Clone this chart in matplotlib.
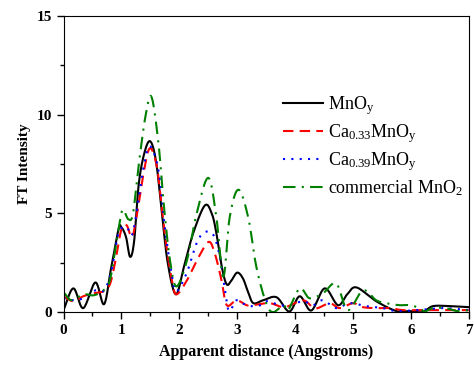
import numpy as np
import matplotlib
matplotlib.use("Agg")
import matplotlib.pyplot as plt
from matplotlib.ticker import MultipleLocator

plt.rcParams['font.family'] = ['Liberation Serif', 'DejaVu Serif']
plt.rcParams['mathtext.fontset'] = 'custom'
plt.rcParams['mathtext.rm'] = 'Liberation Serif'
plt.rcParams['mathtext.it'] = 'Liberation Serif:italic'

# MnOy (black solid)
mno_x = [0.0, 0.17, 0.34, 0.55, 0.7, 0.82, 0.95, 1.0, 1.08, 1.15, 1.22, 1.3, 1.4, 1.5,
         1.6, 1.7, 1.8, 1.94, 2.08, 2.24, 2.44, 2.56, 2.64, 2.74, 2.82, 2.9, 3.0, 3.1,
         3.19, 3.28, 3.45, 3.68, 3.9, 4.08, 4.28, 4.51, 4.74, 4.9, 5.06, 5.4, 5.75,
         5.98, 6.2, 6.38, 6.67, 7.0]
mno_y = [0.1, 1.2, 0.2, 1.5, 0.4, 2.2, 4.2, 4.3, 3.8, 2.8, 3.6, 6.5, 8.1, 8.65,
         7.6, 5.0, 2.5, 0.9, 2.3, 4.0, 5.4, 5.0, 4.0, 2.2, 1.4, 1.6, 2.0, 1.7,
         1.0, 0.45, 0.6, 0.75, 0.03, 0.8, 0.08, 1.2, 0.35, 0.9, 1.25, 0.55, 0.05,
         0.05, 0.0, 0.3, 0.3, 0.25]

# Ca0.33MnOy (red dashed)
ca33_x = [0.0, 0.17, 0.34, 0.52, 0.69, 0.8, 0.89, 1.0, 1.09, 1.18, 1.26, 1.38, 1.49,
          1.61, 1.7, 1.78, 1.87, 1.95, 2.13, 2.3, 2.5, 2.61, 2.73, 2.82, 2.99, 3.16,
          3.27, 3.56, 3.82, 4.13, 4.3, 4.39, 4.6, 4.77, 5.0, 5.17, 5.4, 5.63, 5.86,
          6.2, 6.55, 6.9, 7.0]
ca33_y = [0.8, 0.55, 0.8, 0.95, 1.05, 1.4, 2.5, 4.2, 4.4, 3.8, 4.8, 7.0, 8.3,
          7.4, 5.2, 3.3, 1.65, 0.9, 1.6, 2.6, 3.55, 3.0, 1.6, 0.35, 0.6, 0.35,
          0.35, 0.45, 0.25, 0.6, 0.25, 0.2, 0.45, 0.2, 0.45, 0.25, 0.2, 0.2, 0.1,
          0.1, 0.1, 0.1, 0.1]

# Ca0.39MnOy (blue dotted)
ca39_x = [0.0, 0.17, 0.34, 0.55, 0.7, 0.83, 0.95, 1.09, 1.18, 1.26, 1.38, 1.49, 1.64,
          1.75, 1.87, 1.95, 2.13, 2.3, 2.44, 2.59, 2.7, 2.79, 2.86, 2.99, 3.16, 3.36,
          3.5, 3.74, 3.91, 4.14, 4.31, 4.48, 4.71, 4.94, 5.23, 5.52, 5.75, 6.1, 6.55,
          7.0]
ca39_y = [0.7, 0.6, 0.7, 1.1, 1.1, 2.1, 4.0, 4.3, 3.9, 5.0, 7.3, 8.4, 7.2,
          4.3, 1.9, 1.05, 2.0, 3.5, 4.05, 3.9, 2.8, 1.1, 0.05, 0.6, 0.35, 0.3,
          0.55, 0.35, 0.35, 0.55, 0.35, 0.6, 0.2, 0.45, 0.3, 0.2, 0.05, 0.1, 0.2,
          0.1]

# commercial MnO2 (green dash-dot)
com_x = [0.0, 0.14, 0.34, 0.52, 0.69, 0.8, 0.9, 0.98, 1.03, 1.12, 1.2, 1.3, 1.42, 1.52,
         1.64, 1.74, 1.84, 1.95, 2.13, 2.3, 2.5, 2.64, 2.76, 2.87, 3.02, 3.19, 3.33,
         3.5, 3.62, 3.8, 3.88, 4.08, 4.25, 4.48, 4.71, 4.91, 5.17, 5.4, 5.57, 5.8,
         5.98, 6.15, 6.24, 6.38, 6.6, 6.8, 7.0]
com_y = [1.0, 0.6, 0.9, 0.85, 1.1, 1.6, 3.3, 4.7, 5.2, 4.7, 5.0, 7.5, 10.0, 10.9,
         8.55, 5.2, 2.6, 1.3, 2.6, 5.0, 6.8, 4.8, 1.8, 4.8, 6.2, 4.8, 2.3,
         0.45, 0.0, 0.35, 0.1, 1.2, 0.7, 0.95, 1.45, 0.1, 1.1, 0.6, 0.45, 0.35,
         0.35, 0.2, 0.03, 0.2, 0.2, 0.05, 0.1]

labels = ['MnO$_\\mathrm{y}$', 'Ca$_{0.33}$MnO$_\\mathrm{y}$',
          'Ca$_{0.39}$MnO$_\\mathrm{y}$', 'commercial MnO$_2$']


def smooth(x, y):
    # Catmull-Rom through the read points
    x = np.asarray(x, float)
    y = np.asarray(y, float)
    px = np.concatenate([[2 * x[0] - x[1]], x, [2 * x[-1] - x[-2]]])
    py = np.concatenate([[2 * y[0] - y[1]], y, [2 * y[-1] - y[-2]]])
    xs, ys = [], []
    t = np.linspace(0, 1, 20, endpoint=False)
    for i in range(1, len(px) - 2):
        p0, p1, p2, p3 = [np.array([px[j], py[j]]) for j in (i - 1, i, i + 1, i + 2)]
        tt = t[:, None]
        pts = 0.5 * ((2 * p1) + (-p0 + p2) * tt + (2 * p0 - 5 * p1 + 4 * p2 - p3) * tt**2
                     + (-p0 + 3 * p1 - 3 * p2 + p3) * tt**3)
        xs.extend(pts[:, 0])
        ys.extend(pts[:, 1])
    xs.append(x[-1])
    ys.append(y[-1])
    return np.array(xs), np.array(ys)


fig = plt.figure(figsize=(4.74, 3.65), dpi=100)
ax = fig.add_axes([0.134, 0.145, 0.855, 0.811])

ax.plot(*smooth(mno_x, mno_y), color='black', lw=1.5, label=labels[0])
ax.plot(*smooth(ca33_x, ca33_y), color='red', lw=1.5, ls=(0, (5, 3)), label=labels[1])
ax.plot(*smooth(ca39_x, ca39_y), color='blue', lw=1.5, ls=(0, (1, 3)), label=labels[2])
ax.plot(*smooth(com_x, com_y), color='green', lw=1.5, ls=(0, (6, 3, 1, 3)), label=labels[3])

ax.set_xlim(0, 7)
ax.set_ylim(0, 15)
ax.xaxis.set_major_locator(MultipleLocator(1))
ax.xaxis.set_minor_locator(MultipleLocator(0.5))
ax.yaxis.set_major_locator(MultipleLocator(5))
ax.yaxis.set_minor_locator(MultipleLocator(2.5))
ax.tick_params(which='major', direction='out', length=5, width=1, labelsize=11)
ax.tick_params(which='minor', direction='out', length=3, width=1)
for lab in ax.get_xticklabels() + ax.get_yticklabels():
    lab.set_fontweight('bold')

ax.set_xlabel('Apparent distance (Angstroms)', fontsize=11.5, fontweight='bold', labelpad=5)
ax.set_ylabel('FT Intensity', fontsize=11, fontweight='bold', labelpad=4)

ax.legend(loc='upper left', bbox_to_anchor=(0.542, 0.735), frameon=False,
          fontsize=13, handlelength=2.2, handletextpad=0.3, labelspacing=0.28,
          borderpad=0, borderaxespad=0)

fig.savefig('out.png', dpi=100)
